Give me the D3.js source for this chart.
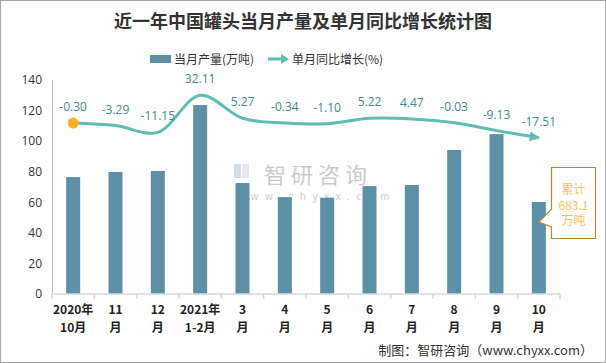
<!DOCTYPE html>
<html>
<head>
<meta charset="utf-8">
<script src="https://cdn.jsdelivr.net/npm/d3@7"></script>
<style>
  body { margin: 0; background: #fff; }
  svg { display: block; font-family: "Noto Sans CJK SC", "Noto Sans", sans-serif; }
</style>
</head>
<body>
<div id="chart"></div>
<script>
// data
const categories = [["2020年", "10月"], ["11", "月"], ["12", "月"], ["2021年", "1-2月"], ["3", "月"], ["4", "月"],
  ["5", "月"], ["6", "月"], ["7", "月"], ["8", "月"], ["9", "月"], ["10", "月"]];
const output = [76.5, 79.8, 80.5, 123.6, 72.6, 63.4, 63.0, 70.6, 71.3, 94.2, 104.6, 60.2];
const growth = [-0.30, -3.29, -11.15, 32.11, 5.27, -0.34, -1.10, 5.22, 4.47, -0.03, -9.13, -17.51];
const yTicks = [0, 20, 40, 60, 80, 100, 120, 140];
const cumulative = ["累计", "683.1", "万吨"];

const width = 606, height = 363;
const marginLeft = 52, marginRight = 46, marginTop = 80, marginBottom = 69;
const barColor = "#5b90a6", lineColor = "#5dbdb3", dotColor = "#f4b324", labelColor = "#3b8a8e";

const svg = d3.select("#chart").append("svg")
    .attr("width", width)
    .attr("height", height)
    .attr("viewBox", [0, 0, width, height]);

// border
svg.append("rect")
    .attr("x", 0.5).attr("y", 0.5)
    .attr("width", width - 1).attr("height", height - 1)
    .attr("fill", "#fff").attr("stroke", "#a6a6a6");

const I = d3.range(categories.length);
const x = d3.scaleBand(I, [marginLeft, width - marginRight]);
const y = d3.scaleLinear([0, 140], [height - marginBottom, marginTop]);
const y2 = d3.scaleLinear([-200, 50], [height - marginBottom, marginTop]); // hidden secondary axis

// title
svg.append("text")
    .attr("x", 303).attr("y", 28)
    .attr("text-anchor", "middle")
    .attr("font-size", 18).attr("font-weight", "bold")
    .attr("fill", "#333")
    .text("近一年中国罐头当月产量及单月同比增长统计图");

// legend
const legend = svg.append("g").attr("font-size", 12).attr("fill", "#333");
legend.append("rect").attr("x", 150).attr("y", 55).attr("width", 21).attr("height", 8).attr("fill", barColor);
legend.append("text").attr("x", 174).attr("y", 64).text("当月产量(万吨)");
legend.append("line").attr("x1", 268).attr("x2", 283).attr("y1", 59).attr("y2", 59)
    .attr("stroke", lineColor).attr("stroke-width", 3);
legend.append("path").attr("d", "M281,54L289,59L281,64Z").attr("fill", lineColor);
legend.append("text").attr("x", 292).attr("y", 64).text("单月同比增长(%)");

// watermark
const wm = svg.append("g").attr("opacity", 0.45);
wm.append("rect").attr("x", 234).attr("y", 164).attr("width", 7).attr("height", 14).attr("fill", "#9fb3d6");
wm.append("rect").attr("x", 242).attr("y", 164).attr("width", 7).attr("height", 14).attr("fill", "#c7cedb");
wm.append("text").attr("x", 264).attr("y", 183).attr("font-size", 22).attr("fill", "#8c8c8c")
    .attr("letter-spacing", 5).text("智研咨询");
wm.append("text").attr("x", 236).attr("y", 200).attr("font-size", 10).attr("fill", "#8c8c8c")
    .attr("letter-spacing", 6.5).text("www.chyxx.com");

// y axis
svg.append("g")
    .attr("transform", `translate(${marginLeft},0)`)
    .call(d3.axisLeft(y).tickValues(yTicks).tickSize(0).tickPadding(10))
    .call(g => g.select(".domain").attr("stroke", "#bfbfbf"))
    .call(g => g.selectAll(".tick text").attr("font-size", 12).attr("fill", "#333")
        .attr("font-family", "'Open Sans', 'Noto Sans', sans-serif"));

// bars
svg.append("g")
    .attr("fill", barColor)
    .selectAll("rect")
    .data(I)
    .join("rect")
    .attr("x", i => x(i) + x.bandwidth() / 2 - 7)
    .attr("width", 14)
    .attr("y", i => y(output[i]))
    .attr("height", i => y(0) - y(output[i]));

// x axis
const xAxis = svg.append("g").attr("transform", `translate(0,${y(0)})`);
xAxis.append("line").attr("x1", marginLeft).attr("x2", width - marginRight)
    .attr("stroke", "#d9d9d9").attr("stroke-width", 1.5);
xAxis.selectAll(".tk")
    .data(d3.range(categories.length + 1))
    .join("line")
    .attr("x1", i => marginLeft + i * x.step()).attr("x2", i => marginLeft + i * x.step())
    .attr("y1", 0).attr("y2", 5)
    .attr("stroke", "#d9d9d9").attr("stroke-width", 1.5);
xAxis.selectAll(".lbl")
    .data(I)
    .join("text")
    .attr("text-anchor", "middle")
    .attr("font-size", 12).attr("font-weight", "bold").attr("fill", "#222")
    .attr("transform", i => `translate(${x(i) + x.bandwidth() / 2},0)`)
    .call(t => t.append("tspan").attr("x", 0).attr("y", 20).text(i => categories[i][0]))
    .call(t => t.append("tspan").attr("x", 0).attr("y", 38).text(i => categories[i][1]));

// growth line
const cx = i => x(i) + x.bandwidth() / 2;
const line = d3.line()
    .curve(d3.curveCatmullRom.alpha(0.5))
    .x(i => cx(i))
    .y(i => y2(growth[i]));

svg.append("defs").append("marker")
    .attr("id", "arrow")
    .attr("viewBox", "0 0 10 10")
    .attr("refX", 9).attr("refY", 5)
    .attr("markerWidth", 3.4).attr("markerHeight", 3.4)
    .attr("orient", "auto")
    .append("path").attr("d", "M0,0L10,5L0,10Z").attr("fill", lineColor);

svg.append("path")
    .attr("fill", "none")
    .attr("stroke", lineColor)
    .attr("stroke-width", 3)
    .attr("marker-end", "url(#arrow)")
    .attr("d", line(I));

svg.append("circle")
    .attr("cx", cx(0)).attr("cy", y2(growth[0]))
    .attr("r", 5.5).attr("fill", dotColor);

svg.append("g")
    .attr("font-size", 12).attr("fill", labelColor).attr("text-anchor", "middle")
    .attr("font-family", "'Open Sans', 'Noto Sans', sans-serif")
    .selectAll("text")
    .data(I)
    .join("text")
    .attr("x", i => cx(i))
    .attr("y", i => y2(growth[i]) - 12)
    .text(i => growth[i].toFixed(2));

// cumulative callout
const last = I.length - 1;
const tipX = cx(last), tipY = y(output[last]) + 20;
const bx0 = 551.5, bx1 = 595.5, by0 = 167.5, by1 = 238.5;
svg.append("path")
    .attr("d", `M${bx0},${by0}H${bx1}V${by1}H${bx0}V${tipY + 5}L${tipX},${tipY}L${bx0},${tipY - 13}Z`)
    .attr("fill", "#fff").attr("stroke", "#b8892e").attr("stroke-width", 1.2);
svg.append("g")
    .attr("font-size", 12).attr("fill", "#f6c451").attr("text-anchor", "middle")
    .selectAll("text")
    .data(cumulative)
    .join("text")
    .attr("x", (bx0 + bx1) / 2)
    .attr("y", (d, i) => 194 + i * 15.5)
    .text(d => d);

// source
svg.append("text")
    .attr("x", 593).attr("y", 355)
    .attr("text-anchor", "end")
    .attr("font-size", 13).attr("fill", "#333")
    .text("制图：智研咨询（www.chyxx.com）");
</script>
</body>
</html>
